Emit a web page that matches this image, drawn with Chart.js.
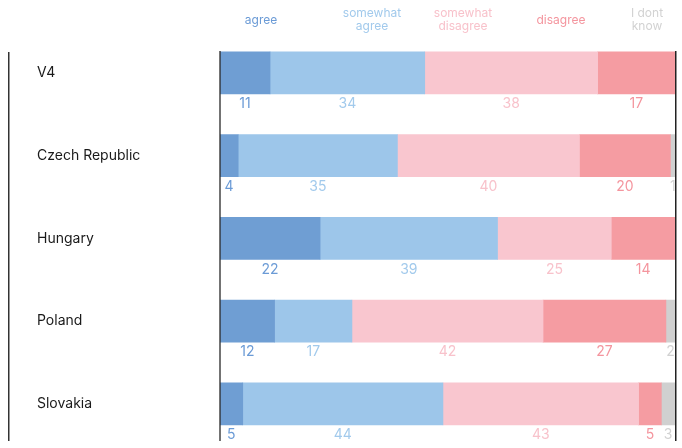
<!DOCTYPE html>
<html>
<head>
<meta charset="utf-8">
<script src="https://cdn.jsdelivr.net/npm/chart.js@4.4.1/dist/chart.umd.min.js"></script>
<style>
    html, body { margin: 0; padding: 0; background: #fff; overflow: hidden; }
    #wrap { position: relative; width: 682px; height: 448px; }
    #legend { position: absolute; top: 0; left: 0; width: 682px; height: 40px; }
    #legend div {
        position: absolute;
        transform: translateX(-50%);
        text-align: center;
        font: 12px Inter, sans-serif;
        line-height: 13px;
        white-space: nowrap;
    }
</style>
</head>
<body>
<div id="wrap">
    <canvas id="chart" width="682" height="448"></canvas>
    <div id="legend"></div>
</div>
<script>
// Chart data
const countries = ['V4', 'Czech Republic', 'Hungary', 'Poland', 'Slovakia'];
const agree = [11, 4, 22, 12, 5];
const somewhatAgree = [34, 35, 39, 17, 44];
const somewhatDisagree = [38, 40, 25, 42, 43];
const disagree = [17, 20, 14, 27, 5];
const dontKnow = [0, 1, 0, 2, 3];

const seriesNames = ['agree', 'somewhat\nagree', 'somewhat\ndisagree', 'disagree', 'I dont\nknow'];
const seriesColors = ['#6f9ed3', '#9dc6ea', '#f9c6cf', '#f59ca2', '#d0d0d0'];
const labelColors = ['#6b9bd6', '#a2caec', '#f8c2cb', '#f4959e', '#d2d2d2'];
const legendCenters = [261, 372, 463, 561, 647];

// Legend (html, above the plot)
const legendEl = document.getElementById('legend');
seriesNames.forEach(function(name, i) {
    const d = document.createElement('div');
    d.innerHTML = name.replace('\n', '<br>');
    d.style.left = legendCenters[i] + 'px';
    d.style.color = labelColors[i];
    d.style.top = name.indexOf('\n') >= 0 ? '6px' : '13px';
    legendEl.appendChild(d);
});

// Value labels under each segment
const valueLabels = {
    id: 'valueLabels',
    afterDatasetsDraw(chart) {
        const ctx = chart.ctx;
        ctx.save();
        ctx.font = '14px Inter, sans-serif';
        ctx.textAlign = 'center';
        ctx.textBaseline = 'middle';
        chart.data.datasets.forEach(function(ds, di) {
            const meta = chart.getDatasetMeta(di);
            meta.data.forEach(function(bar, i) {
                const v = ds.data[i];
                if (!v) return;
                const p = bar.getProps(['x', 'y', 'base', 'height'], true);
                ctx.fillStyle = labelColors[di];
                ctx.fillText(String(v), (p.x + p.base) / 2, p.y + p.height / 2 + 10);
            });
        });
        ctx.restore();
    }
};

// Frame lines
const frameLines = {
    id: 'frameLines',
    afterDatasetsDraw(chart) {
        const ctx = chart.ctx;
        const area = chart.chartArea;
        ctx.save();
        ctx.fillStyle = '#333';
        ctx.fillRect(8, 52, 1.5, 389);
        ctx.fillStyle = 'rgba(40, 40, 40, 0.65)';
        ctx.fillRect(area.left - 1, 51, 2, 390);
        ctx.fillStyle = '#222';
        ctx.fillRect(area.right, 51, 1.5, 390);
        ctx.restore();
    }
};

const dataArrays = [agree, somewhatAgree, somewhatDisagree, disagree, dontKnow];

new Chart(document.getElementById('chart'), {
    type: 'bar',
    data: {
        labels: countries,
        datasets: dataArrays.map(function(arr, i) {
            return {
                label: seriesNames[i].replace('\n', ' '),
                data: arr,
                backgroundColor: seriesColors[i],
                borderWidth: 0,
                barThickness: 42
            };
        })
    },
    options: {
        indexAxis: 'y',
        responsive: false,
        animation: false,
        layout: {
            padding: { left: 37, right: 7, top: 31.5, bottom: 2.7 }
        },
        plugins: {
            legend: { display: false },
            tooltip: { enabled: false }
        },
        scales: {
            x: {
                stacked: true,
                min: 0,
                max: 100,
                display: false
            },
            y: {
                stacked: true,
                grid: { display: false },
                border: { display: false },
                ticks: {
                    crossAlign: 'far',
                    color: '#1a1a1a',
                    font: { family: 'Inter, sans-serif', size: 14 }
                },
                afterFit: function(scale) {
                    scale.width = 183;
                    scale.paddingTop = 0;
                    scale.paddingBottom = 0;
                }
            }
        }
    },
    plugins: [valueLabels, frameLines]
});
</script>
</body>
</html>
